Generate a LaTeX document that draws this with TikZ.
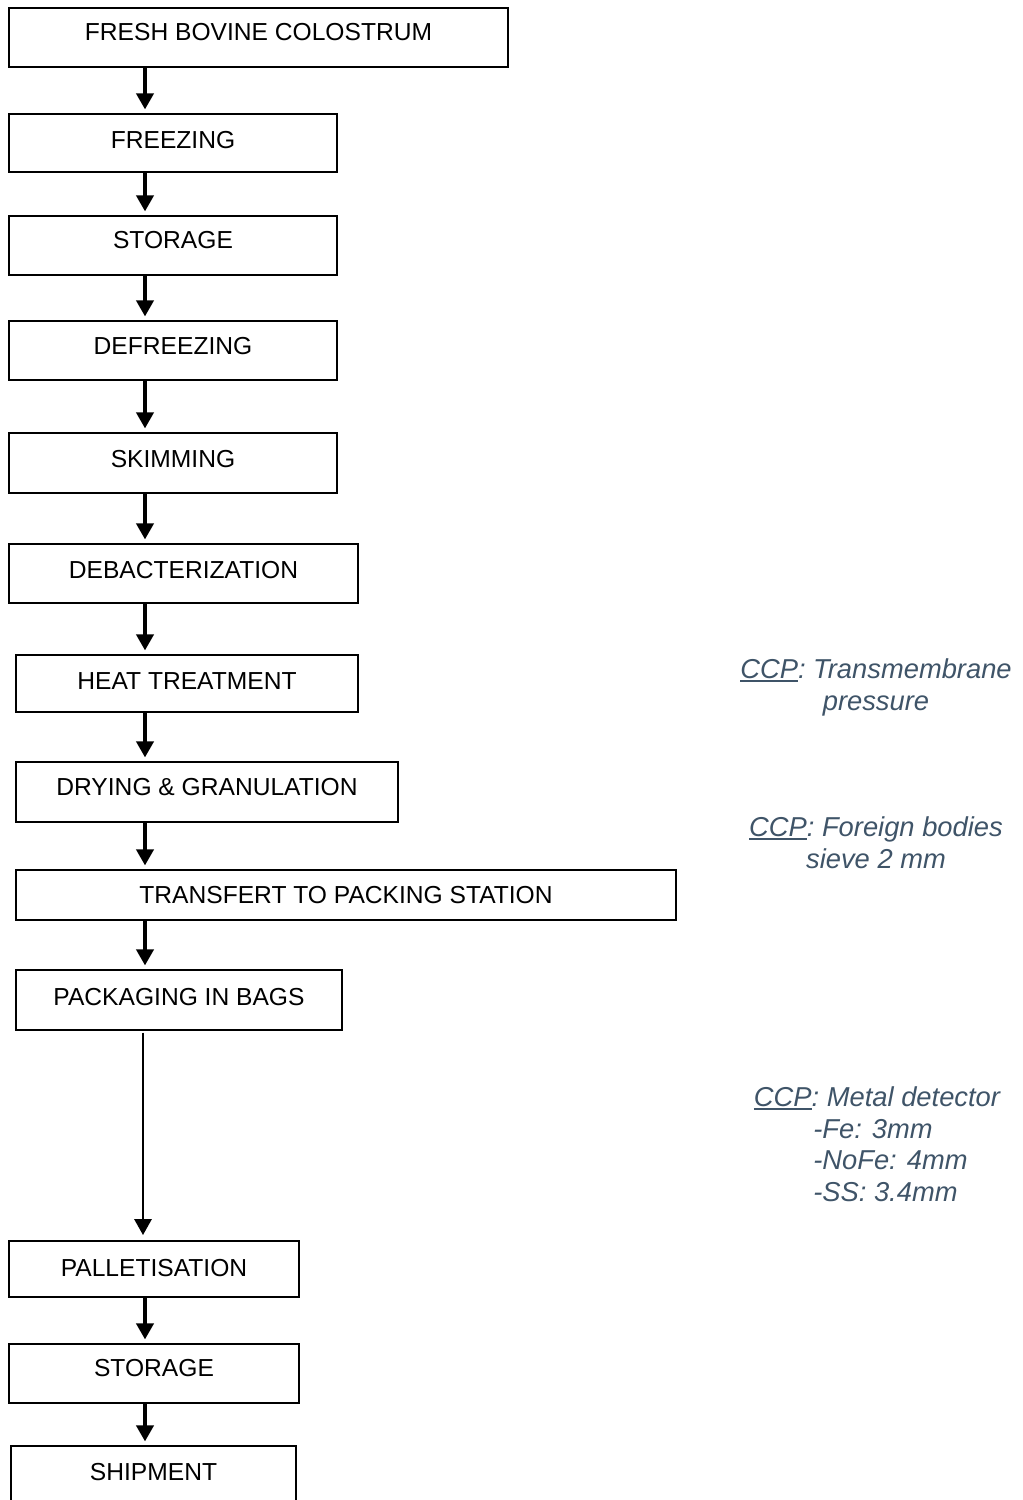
\documentclass[tikz,border=0pt]{standalone}
\usepackage{fontspec}
\setmainfont{Liberation Sans}
\usetikzlibrary{arrows.meta}
\definecolor{ccpblue}{HTML}{3F5468}
\newcommand\boxfont{\fontsize{18.45pt}{22pt}\selectfont}
\newcommand\ccpfont{\fontsize{20.5pt}{24pt}\selectfont\itshape}
\newcommand\ccpmark{\setbox0\hbox{CCP}\rlap{\vrule height -1.4pt depth 3.1pt width \wd0}CCP}
\begin{document}
\begin{tikzpicture}[x=0.75pt,y=-0.75pt,
  stepbox/.style={draw, line width=1.2pt, inner sep=0pt, outer sep=0pt, anchor=north west, font=\boxfont, text height=13.2pt},
  bw/.style={minimum width=#1*0.75pt},
  bh/.style={minimum height=#1*0.75pt},
  arr/.style={line width=2.4pt, -{Triangle[length=12pt,width=13pt]}, shorten >=3.5pt},
  longarr/.style={line width=1.7pt, -{Triangle[length=12pt,width=13pt]}, shorten <=2pt, shorten >=4.5pt},
  ccp/.style={font=\ccpfont, text=ccpblue, inner sep=0pt, anchor=base},
  ccpl/.style={font=\ccpfont, text=ccpblue, inner sep=0pt, anchor=base west}]
\useasboundingbox (0,0) rectangle (1022,1500);
\node[stepbox, bw=499, bh=59, text depth=8.25pt] (f1) at (9,8) {FRESH BOVINE COLOSTRUM};
\node[stepbox, bw=328, bh=58, text depth=4.5pt] (f2) at (9,114) {FREEZING};
\node[stepbox, bw=328, bh=59, text depth=8.25pt] (f3) at (9,216) {STORAGE};
\node[stepbox, bw=328, bh=59, text depth=6.75pt] (f4) at (9,321) {DEFREEZING};
\node[stepbox, bw=328, bh=60, text depth=6pt] (f5) at (9,433) {SKIMMING};
\node[stepbox, bw=349, bh=59, text depth=5.25pt] (f6) at (9,544) {DEBACTERIZATION};
\node[stepbox, bw=342, bh=57, text depth=3.75pt] (f7) at (16,655) {HEAT TREATMENT};
\node[stepbox, bw=382, bh=60, text depth=7.5pt] (f8) at (16,762) {DRYING \& GRANULATION};
\node[stepbox, bw=660, bh=50, text depth=0pt] (f9) at (16,870) {TRANSFERT TO PACKING STATION};
\node[stepbox, bw=326, bh=60, text depth=4.5pt] (f10) at (16,970) {PACKAGING IN BAGS};
\node[stepbox, bw=290, bh=56, text depth=1.5pt] (f11) at (9,1241) {PALLETISATION};
\node[stepbox, bw=290, bh=59, text depth=8.25pt] (f12) at (9,1344) {STORAGE};
\node[stepbox, bw=285, bh=60, text depth=6pt] (f13) at (11,1446) {SHIPMENT};

\coordinate (ax) at (145,0);
\coordinate (axl) at (143,0);
\draw[arr] (f1.south -| ax) -- (f2.north -| ax);
\draw[arr] (f2.south -| ax) -- (f3.north -| ax);
\draw[arr] (f3.south -| ax) -- (f4.north -| ax);
\draw[arr] (f4.south -| ax) -- (f5.north -| ax);
\draw[arr] (f5.south -| ax) -- (f6.north -| ax);
\draw[arr] (f6.south -| ax) -- (f7.north -| ax);
\draw[arr] (f7.south -| ax) -- (f8.north -| ax);
\draw[arr] (f8.south -| ax) -- (f9.north -| ax);
\draw[arr] (f9.south -| ax) -- (f10.north -| ax);
\draw[longarr] (f10.south -| axl) -- (f11.north -| axl);
\draw[arr] (f11.south -| ax) -- (f12.north -| ax);
\draw[arr] (f12.south -| ax) -- (f13.north -| ax);

\node[ccp] (c1a) at (876,678) {\ccpmark: Transmembrane};
\node[ccp] (c1b) at (876,710) {pressure};
\node[ccp] (c2a) at (876,836) {\ccpmark: Foreign bodies};
\node[ccp] (c2b) at (876,868) {sieve 2 mm};
\node[ccp] (c3a) at (877,1106) {\ccpmark: Metal detector};
\node[ccpl] (c3b) at (813,1138) {-Fe: 3mm};
\node[ccpl] (c3c) at (813,1169) {-NoFe: 4mm};
\node[ccpl] (c3d) at (813,1201) {-SS: 3.4mm};
\end{tikzpicture}
\end{document}
